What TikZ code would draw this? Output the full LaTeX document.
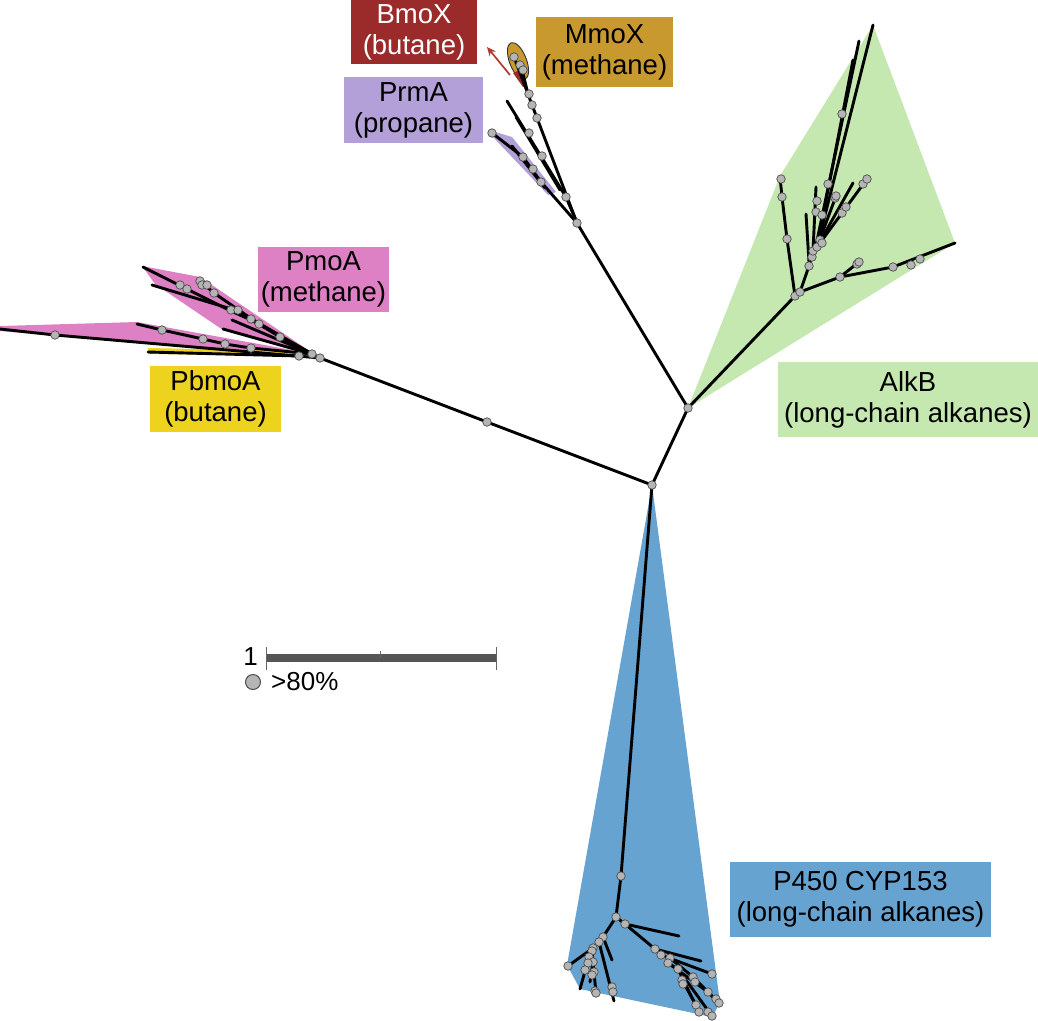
\documentclass[tikz,border=0pt]{standalone}
\usepackage{fontspec}
\setmainfont{Liberation Sans}
\usetikzlibrary{arrows.meta}
\definecolor{bmored}{HTML}{9B2B2A}
\definecolor{mmogold}{HTML}{C8992F}
\definecolor{prmpurple}{HTML}{B3A0D8}
\definecolor{pmoapink}{HTML}{DD80C4}
\definecolor{pbyellow}{HTML}{EDD21E}
\definecolor{alkgreen}{HTML}{C5E8B0}
\definecolor{p450blue}{HTML}{67A3D1}
\definecolor{dotgray}{HTML}{B5B5B5}
\definecolor{arrowred}{HTML}{B23A30}
\definecolor{scalegray}{HTML}{555555}
\begin{document}
\begin{tikzpicture}[x=1pt,y=-1pt,
  br/.style={line width=2.9pt, line cap=round, line join=round},
  dot/.style={circle, fill=dotgray, draw=black!70, line width=0.7pt, inner sep=0pt, minimum size=8.5pt},
  lab/.style={inner sep=0pt, align=center, font=\fontsize{27.5}{31}\selectfont, text=black}]
\useasboundingbox (0,0) rectangle (1038,1020);

% key internal nodes
\coordinate (C) at (652,485);
\coordinate (A) at (688,408);
\coordinate (T) at (577,223);
\coordinate (L1) at (487,422);
\coordinate (L) at (320,358);
\coordinate (R) at (312,354);
\coordinate (B1) at (621,876);
\coordinate (B) at (616,917);

% clade shading
\fill[alkgreen] (A) -- (780,176) -- (873,25) -- (955,243) -- cycle;
\fill[p450blue] (C) -- (567,965) -- (580,989) -- (712,1017) -- (720,1003) -- cycle;
\fill[pmoapink] (142,266) -- (200,277) -- (314,354) -- (223,330) -- (155,284) -- cycle;
\fill[pmoapink] (0,326) -- (137,322) -- (314,354) -- (300,357) -- (0,331) -- cycle;
\fill[pbyellow] (148,348) -- (292,351) -- (300,356) -- (148,354) -- cycle;
\fill[prmpurple] (492,131) -- (512,137) -- (556,192) -- (548,195) -- (492,136) -- cycle;
\draw[fill=mmogold, draw=black!80, line width=0.9pt, rotate around={21:(518,61)}] (518,61) ellipse [x radius=8.5, y radius=19.5];
\fill[bmored] (513,73) -- (520,70) -- (527,85) -- (523,87) -- cycle;

% labels
\node[lab, fill=bmored, text=white, minimum width=126pt, minimum height=64pt] (bmox) at (414,32) {BmoX\\(butane)};
\node[lab, fill=mmogold, minimum width=137pt, minimum height=70pt] (mmox) at (604.5,52) {MmoX\\(methane)};
\node[lab, fill=prmpurple, minimum width=139pt, minimum height=66pt] (prma) at (413.5,110) {PrmA\\(propane)};
\node[lab, fill=pmoapink, minimum width=131pt, minimum height=65pt] (pmoa) at (323.5,279.5) {PmoA\\(methane)};
\node[lab, fill=pbyellow, minimum width=131pt, minimum height=66pt] (pbmoa) at (215.5,399) {PbmoA\\(butane)};
\node[lab, fill=alkgreen, minimum width=260pt, minimum height=75pt] (alkb) at (908,399.5) {AlkB\\(long-chain alkanes)};
\node[lab, fill=p450blue, minimum width=261pt, minimum height=75pt] (p450) at (860.5,899.5) {P450 CYP153\\(long-chain alkanes)};

% arrow to BmoX
\coordinate (arS) at (510,75);
\coordinate (arE) at (487,47);
\draw[arrowred, line width=1.7pt, -{Stealth[length=9pt,width=8pt]}] (arS) -- (arE);

% main branches
\draw[br] (C) -- (A) -- (T);
\draw[br] (C) -- (L1) -- (L) -- (55,335) -- (0,329);
\draw[br] (C) -- (B1) -- (B);

% top clade
\draw[br] (T) -- (537,118) -- (532,105) -- (528,94) -- (522,70);
\draw[br] (528,94) -- (514,57);
\draw[br] (T) -- (566,197) -- (507,101);
\draw[br] (560,190) -- (516,117);
\draw[br] (T) -- (541,182) -- (523,157) -- (492,133);
\draw[br] (545,188) -- (512,146);

% PmoA / PbmoA clade
\draw[br] (L) -- (R);
\draw[br] (R) -- (251,348) -- (225,344) -- (203,339) -- (162,330) -- (137,324);
\draw[br] (299,356) -- (148,352);
\draw[br] (R) -- (251,320) -- (231,311) -- (187,289) -- (143,267);
\draw[br] (R) -- (280,337) -- (259,324) -- (214,293) -- (200,281);
\draw[br] (R) -- (238,311) -- (152,285);
\draw[br] (R) -- (223,329);
\draw[br] (R) -- (232,320);

% AlkB clade
\draw[br] (A) -- (795,296);
\draw[br] (795,296) -- (787,239) -- (782,197) -- (780,177);
\draw[br] (795,296) -- (800,292) -- (840,277) -- (893,267) -- (955,243);
\draw[br] (840,277) -- (859,262);
\draw[br] (800,292) -- (809,266) -- (813,251) -- (817,247);
\draw[br] (817,247) -- (873,25);
\draw[br] (815,250) -- (859,41);
\draw[br] (817,247) -- (853,60);
\draw[br] (817,247) -- (867,179);
\draw[br] (817,247) -- (853,183);
\draw[br] (817,247) -- (836,196);
\draw[br] (813,251) -- (816,187);
\draw[br] (809,262) -- (806,214);

% P450 clade
\draw[br] (B) -- (625,924) -- (679,936);
\draw[br] (625,924) -- (655,949) -- (701,961);
\draw[br] (655,949) -- (661,955) -- (712,974);
\draw[br] (661,955) -- (670,958) -- (693,977) -- (719,1003);
\draw[br] (670,958) -- (668,963) -- (708,992);
\draw[br] (668,963) -- (678,969) -- (699,1012);
\draw[br] (678,969) -- (712,1016);
\draw[br] (682,980) -- (696,1005);
\draw[br] (B) -- (603,937) -- (599,942) -- (593,948) -- (568,966);
\draw[br] (599,942) -- (614,1001);
\draw[br] (603,937) -- (612,960);
\draw[br] (593,948) -- (589,957) -- (580,989);
\draw[br] (592,951) -- (596,993);
\draw[br] (593,962) -- (590,982);

% support dots
\foreach \p [count=\i] in {
  (514,57),(520,65),(523,70),(529,94),(532,105),(537,118),(529,133),(542,156),(523,157),(533,169),(541,182),(566,197),(577,223),(492,133),
  (55,335),(162,330),(180,285),(187,289),(200,281),(202,285),(207,285),(214,293),(231,310),(238,310),(251,319),(259,324),(280,337),(203,339),(225,344),(251,348),(299,356),(312,354),(320,358),(487,422),
  (781,179),(782,197),(787,239),(795,296),(800,292),(809,266),(812,257),(813,251),(817,247),(820,240),(822,243),(816,212),(817,201),(822,215),(828,184),(842,114),(835,198),(836,196),(842,213),(846,207),(863,184),(867,179),(840,277),(857,264),(859,262),(893,267),(911,265),(920,259),(688,408),(652,485),
  (621,876),(616,917),(625,924),(603,937),(599,942),(593,948),(592,951),(589,957),(593,962),(588,963),(585,970),(594,972),(592,975),(595,991),(596,993),(568,966),(612,987),(613,992),
  (655,949),(661,955),(670,958),(668,963),(678,969),(682,980),(683,984),(693,977),(695,982),(708,992),(712,974),(716,999),(719,1003),(696,1005),(699,1012),(708,1012),(712,1016)}
  \node[dot] (d\i) at \p {};

% scale bar and legend
\node[inner sep=0pt, anchor=east, font=\fontsize{26}{26}\selectfont] (one) at (258,657) {1};
\coordinate (sbL) at (266,658);
\coordinate (sbM) at (380,658);
\coordinate (sbR) at (496,658);
\draw[scalegray, line width=8pt] (sbL) -- (sbR);
\draw[black!60, line width=1pt] ([yshift=-12pt]sbL) -- ([yshift=11pt]sbL);
\draw[black!60, line width=1pt] ([yshift=-12pt]sbR) -- ([yshift=11pt]sbR);
\draw[black!60, line width=1pt] (sbM) -- ([yshift=7pt]sbM);
\node[dot, minimum size=15pt, line width=1pt] (leg) at (253,682) {};
\node[inner sep=0pt, anchor=west, font=\fontsize{26}{26}\selectfont] (pct) at (271,682) {>80\%};
\end{tikzpicture}
\end{document}
